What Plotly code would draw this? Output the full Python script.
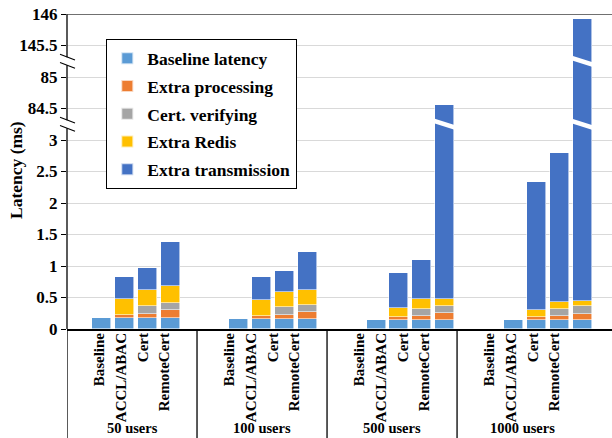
import plotly.graph_objects as go

# ---------------- data (ms) ----------------
groups = ["50 users", "100 users", "500 users", "1000 users"]
schemes = ["Baseline", "ACCL/ABAC", "Cert", "RemoteCert"]
series_names = ["Baseline latency", "Extra processing", "Cert. verifying",
                "Extra Redis", "Extra transmission"]
colors = ["#5B9BD5", "#ED7D31", "#A5A5A5", "#FFC000", "#4472C4"]

# one value per bar, bars ordered group by group, scheme by scheme
baseline_latency   = [0.175, 0.175, 0.175, 0.175,  0.152, 0.152, 0.152, 0.152,
                      0.149, 0.149, 0.149, 0.149,  0.138, 0.138, 0.138, 0.138]
extra_processing   = [0, 0.047, 0.063, 0.125,  0, 0.055, 0.070, 0.118,
                      0, 0.041, 0.064, 0.105,  0, 0.052, 0.062, 0.107]
cert_verifying     = [0, 0, 0.127, 0.120,  0, 0, 0.123, 0.110,
                      0, 0, 0.111, 0.118,  0, 0, 0.118, 0.115]
extra_redis        = [0, 0.248, 0.261, 0.260,  0, 0.249, 0.243, 0.246,
                      0, 0.150, 0.153, 0.100,  0, 0.118, 0.117, 0.085]
extra_transmission = [0, 0.356, 0.349, 0.697,  0, 0.370, 0.332, 0.604,
                      0, 0.556, 0.619, 84.078,  0, 2.028, 2.361, 145.475]

y_tick_values = [0, 0.5, 1, 1.5, 2, 2.5, 3, 84.5, 85, 145.5, 146]
y_tick_labels = ["0", "0.5", "1", "1.5", "2", "2.5", "3", "84.5", "85", "145.5", "146"]

# broken value axis: visible value segments
segments = [(0, 3), (84.5, 85), (145.5, 146)]
BREAK_GAP = 0.5

series = [baseline_latency, extra_processing, cert_verifying, extra_redis, extra_transmission]


def disp(v):
    """Map a real value (ms) to the display coordinate of the broken axis."""
    prev_hi = prev_d = None
    d0 = 0.0
    for lo, hi in segments:
        if prev_hi is not None:
            d0 = prev_d + BREAK_GAP
            if v < lo:
                return prev_d + (v - prev_hi) / (lo - prev_hi) * BREAK_GAP
        if v <= hi:
            return d0 + (v - lo)
        prev_hi, prev_d = hi, d0 + (hi - lo)
    return prev_d + (v - prev_hi)


# display position of each break (middle of each gap)
break_centers = []
_d = 0.0
for i, (lo, hi) in enumerate(segments):
    if i > 0:
        break_centers.append(_d + BREAK_GAP / 2)
        _d += BREAK_GAP
    _d += hi - lo
y_top = _d

# ---------------- geometry ----------------
W, H = 612, 438
ML, MR, MT, MB = 67, 0, 14, 109
PW, PH = W - ML - MR, H - MT - MB
SLOTS = 6                      # per group: gap, 4 bars, gap
BAR_SLOT_PX = 22.89
LABEL_SLOT_PX = 21.67
BAR_W = 0.83

bar_x = [g * SLOTS + s + 1 for g in range(len(groups)) for s in range(len(schemes))]

fig = go.Figure()

n = len(bar_x)
cum = [0.0] * n
for name, col, vals in zip(series_names, colors, series):
    heights = []
    for i in range(n):
        b, t = cum[i], cum[i] + vals[i]
        heights.append(disp(t) - disp(b) if vals[i] > 0 else 0)
        cum[i] = t
    fig.add_trace(go.Bar(
        x=bar_x, y=heights, name=name, legendgroup=name,
        marker=dict(color=col, line=dict(color="rgba(255,255,255,0.7)", width=0.8)),
        width=BAR_W, xaxis="x", yaxis="y",
    ))

label_x = bar_x
fig.add_trace(go.Scatter(x=label_x, y=[None] * n, xaxis="x2", yaxis="y",
                         showlegend=False, hoverinfo="skip", mode="markers"))

shapes = []
# left axis line, interrupted at the breaks
gap = 0.065
pts = [0.0]
for c in break_centers:
    pts += [c - gap, c + gap]
pts.append(y_top)
for a, b in zip(pts[0::2], pts[1::2]):
    shapes.append(dict(type="line", xref="paper", yref="y", x0=0, x1=0, y0=a, y1=b,
                       line=dict(color="black", width=1.3)))
# break slashes on the axis
px = 1.0 / PW
slope = 0.045
for c in break_centers:
    for off in (-gap, gap):
        shapes.append(dict(type="line", xref="paper", yref="y",
                           x0=-7 * px, x1=8 * px, y0=c + off + slope, y1=c + off - slope,
                           line=dict(color="black", width=1.1)))
# top border
shapes.append(dict(type="line", xref="paper", yref="y", x0=0, x1=1, y0=y_top, y1=y_top,
                   line=dict(color="#404040", width=1.3)))
# white break stripes across tall bars
tot = cum
hw = BAR_W / 2 + 0.05
thick, drop = 0.075, 0.11
for i in range(n):
    for c in break_centers:
        if disp(tot[i]) > c + 0.1:
            xl, xr = bar_x[i] - hw, bar_x[i] + hw
            path = (f"M{xl},{c + drop/2 + thick/2} L{xr},{c - drop/2 + thick/2} "
                    f"L{xr},{c - drop/2 - thick/2} L{xl},{c + drop/2 - thick/2} Z")
            shapes.append(dict(type="path", xref="x", yref="y", path=path,
                               fillcolor="white", line=dict(width=0), layer="above"))
# group separators under the category axis
for g in range(len(groups)):
    shapes.append(dict(type="line", xref="x2", yref="paper", x0=g * SLOTS - 0.5,
                       x1=g * SLOTS - 0.5, y0=0, y1=-MB / PH - 0.05,
                       line=dict(color="black", width=1.3)))

FONT = "Liberation Serif"
annotations = []
for g, name in enumerate(groups):
    annotations.append(dict(text=name, xref="x2", yref="paper", x=g * SLOTS + 2.5,
                            y=-(428 - (MT + PH)) / PH, showarrow=False,
                            xanchor="center", yanchor="middle",
                            font=dict(family=FONT, size=14.5)))
# y-axis title
annotations.append(dict(text="Latency (ms)", xref="paper", yref="paper",
                        x=(16 - ML) / PW, y=(MT + PH - 170) / PH, textangle=-90,
                        showarrow=False, xanchor="center", yanchor="middle",
                        font=dict(family=FONT, size=17.5)))

fig.update_layout(
    template="none",
    width=W, height=H,
    margin=dict(l=ML, r=MR, t=MT, b=MB, autoexpand=False),
    paper_bgcolor="white", plot_bgcolor="white",
    font=dict(family=FONT, color="black", size=17, weight="bold"),
    barmode="stack", bargap=0,
    showlegend=True,
    legend=dict(x=(106 - ML) / PW, y=(MT + PH - 39) / PH, xanchor="left", yanchor="top",
                bgcolor="white", bordercolor="black", borderwidth=1.3,
                font=dict(family=FONT, size=17.5), traceorder="grouped", tracegroupgap=2,
                itemsizing="constant"),
    xaxis=dict(range=[-0.5, -0.5 + PW / BAR_SLOT_PX], showticklabels=False,
               showline=True, linecolor="black", linewidth=1.5, showgrid=False,
               zeroline=False, ticks="", automargin=False),
    xaxis2=dict(overlaying="x", side="bottom", anchor="y",
                range=[-0.5, -0.5 + PW / LABEL_SLOT_PX],
                tickmode="array", tickvals=label_x,
                ticktext=[s for _ in groups for s in schemes],
                tickangle=-90, tickfont=dict(family=FONT, size=15), showline=False,
                showgrid=False, zeroline=False, ticks="", automargin=False),
    yaxis=dict(range=[0, y_top], tickmode="array",
               tickvals=[disp(v) for v in y_tick_values], ticktext=y_tick_labels,
               ticks="outside", ticklen=5, tickcolor="black", tickwidth=1.3,
               showgrid=True, gridcolor="#D9D9D9", gridwidth=1.3,
               showline=False, zeroline=False, tickfont=dict(family=FONT, size=17),
               automargin=False),
    shapes=shapes, annotations=annotations,
)

fig.write_html("out.html", config={"displayModeBar": False},
               post_script="document.body.style.margin='0';")
